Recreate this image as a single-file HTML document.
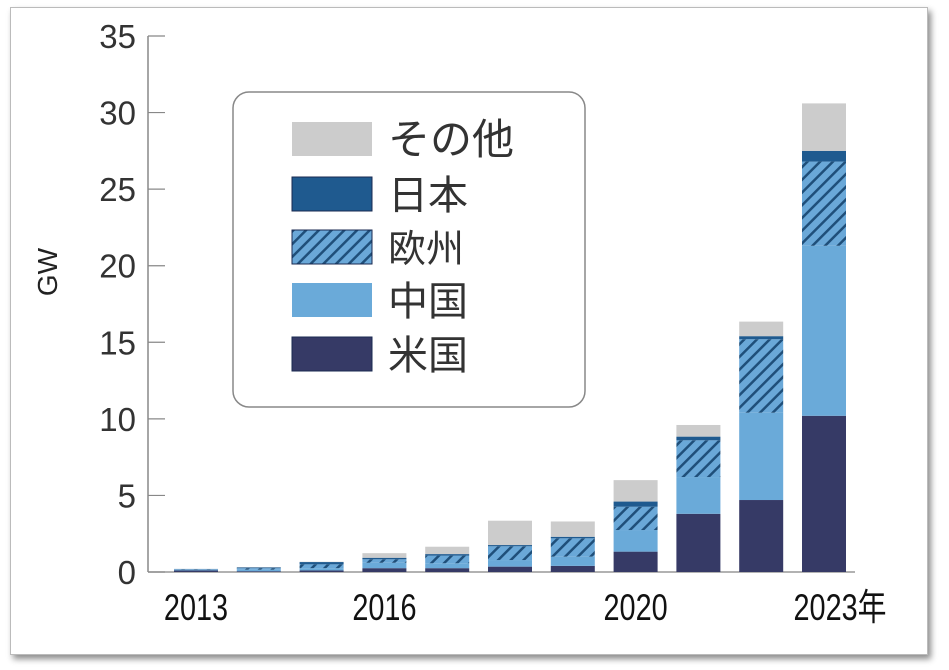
<!DOCTYPE html>
<html><head><meta charset="utf-8"><style>
html,body{margin:0;padding:0;background:#fff;}
body{width:949px;height:670px;overflow:hidden;position:relative;}
#frame{position:absolute;left:10px;top:7px;width:916px;height:646px;border:1px solid #bbb;box-shadow:3px 4px 6px rgba(0,0,0,0.45);background:#fff;}
svg{position:absolute;left:0;top:0;}
</style></head><body>
<div id="frame"></div>
<svg id="chart" width="949" height="670">
<defs>
<pattern id="hatch" patternUnits="userSpaceOnUse" width="9" height="9" patternTransform="rotate(45)">
<rect width="9" height="9" fill="#6aa8d8"/>
<rect x="0" y="0" width="2.5" height="9" fill="#1f4f7a"/>
</pattern>
</defs>
</svg>
<script>
const years=["2013","2014","2015","2016","2017","2018","2019","2020","2021","2022","2023"];
const usVals=[0.1,0.05,0.1,0.25,0.25,0.35,0.4,1.33,3.8,4.7,10.2];
const chinaVals=[0.05,0.1,0.15,0.35,0.32,0.43,0.6,1.41,2.4,5.7,11.1];
const europeVals=[0.03,0.1,0.25,0.23,0.5,0.9,1.2,1.52,2.4,4.8,5.5];
const japanVals=[0.02,0.05,0.15,0.1,0.1,0.08,0.1,0.34,0.24,0.2,0.7];
const otherVals=[0.0,0.02,0.02,0.3,0.48,1.59,1.0,1.4,0.76,0.95,3.1];
const yTicks=[0,5,10,15,20,25,30,35];
const xLabels={"2013":"2013","2016":"2016","2020":"2020","2023":"2023年"};

const NS="http://www.w3.org/2000/svg";
const svg=document.getElementById('chart');
const x0=148,xEnd=855,y0=572,yMax=35,pxPerUnit=(572-36)/35;
const step=62.8,firstCenter=196,barW=44;
function yScale(v){return y0-v*pxPerUnit;}
function xCenter(i){return firstCenter+i*step;}
function mk(tag,attrs){const e=document.createElementNS(NS,tag);for(const k in attrs)e.setAttribute(k,attrs[k]);svg.appendChild(e);return e;}

let ax=mk('line',{x1:x0,y1:yScale(35),x2:x0,y2:y0,stroke:'#888','stroke-width':1.5});


let bx=mk('line',{x1:x0,y1:y0,x2:xEnd,y2:y0,stroke:'#999','stroke-width':1.5});


yTicks.forEach(t=>{
  const y=yScale(t);
  const tk=mk('line',{x1:x0,y1:y,x2:x0+17,y2:y,stroke:'#888','stroke-width':1.2});
  
  
  const tl=mk('text',{x:136,y:y+12,'text-anchor':'end','font-family':'Liberation Sans, sans-serif','font-size':33,fill:'#333'});
  tl.textContent=t;
  
  
});
const gw=mk('text',{x:0,y:0,transform:'translate(57,272) rotate(-90)','text-anchor':'middle','font-family':'Liberation Sans, sans-serif','font-size':28,fill:'#222'});
gw.textContent='GW';



const series=[[usVals,'#363a66','us'],[chinaVals,'#6aaad9','china'],[europeVals,'url(#hatch)','europe'],[japanVals,'#1f5a8f','japan'],[otherVals,'#cccccc','other']];
years.forEach((yr,i)=>{
  let base=0;
  series.forEach(([vals,col,nm])=>{
    const v=vals[i];
    const r=mk('rect',{x:xCenter(i)-barW/2,y:yScale(base+v),width:barW,height:v*pxPerUnit,fill:col});
    
    
    base+=v;
  });
  if(xLabels[yr]){
    const t=mk('text',{x:0,y:0,'font-family':'Liberation Sans, Noto Sans CJK JP, sans-serif','font-size':37,fill:'#111'});
    const cx=yr==="2023"?840:xCenter(i);
    t.setAttribute('transform','translate('+cx+',620) scale(0.78,1)');
    t.setAttribute('text-anchor','middle');
    t.textContent=xLabels[yr];
    
    
  }
});

const lg=mk('rect',{x:233,y:92,width:352,height:315,rx:16,fill:'#fff',stroke:'#888','stroke-width':1.5});


const legItems=[['その他','#cccccc',122,'other',42],['日本','#1f5a8f',177,'japan',40],['欧州','url(#hatch)',230,'europe',38],['中国','#6aaad9',283,'china',40],['米国','#363a66',337,'us',40]];
legItems.forEach(([lab,col,y,nm,fs])=>{
  const s=mk('rect',{x:292,y:y,width:80,height:34,fill:col,stroke:col==='#cccccc'||col==='#6aaad9'?'none':'#1a2a50','stroke-width':1});
  
  
  const t=mk('text',{x:388,y:y+32,'font-family':'Liberation Sans, Noto Sans CJK JP, sans-serif','font-size':fs,fill:'#333'});
  t.textContent=lab;
  
  
});
</script>
</body></html>
